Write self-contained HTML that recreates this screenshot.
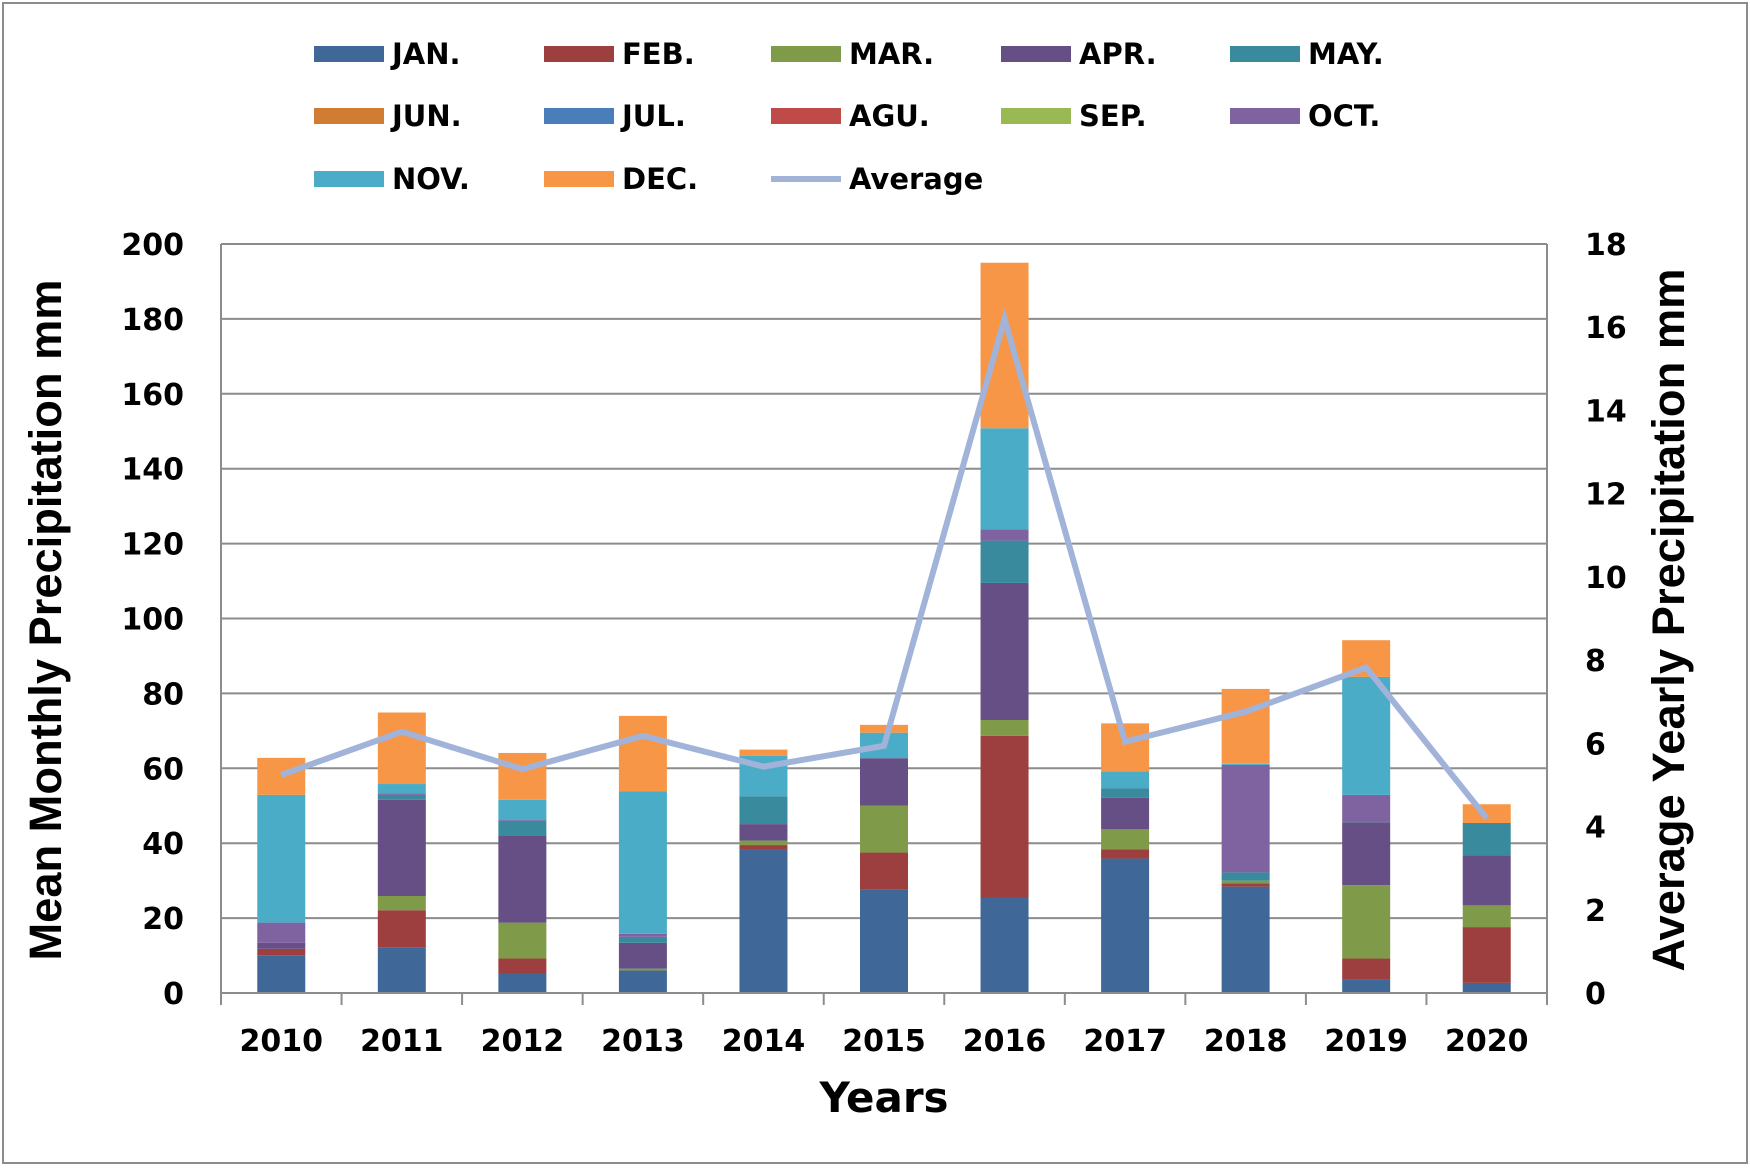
<!DOCTYPE html>
<html><head><meta charset="utf-8"><style>
html,body{margin:0;padding:0;background:#fff;}
svg{display:block;font-family:"DejaVu Sans",Verdana,sans-serif;font-weight:bold;}
</style></head><body>
<svg id="chart" width="1750" height="1168" viewBox="0 0 1750 1168">
<rect x="3" y="3" width="1744" height="1160" fill="#fff" stroke="#8c8c8c" stroke-width="2"/>
<g id="grid"></g><g id="bars"></g><g id="line"></g><g id="axes"></g><g id="legend"></g>
<text x="61" y="620" font-size="45" text-anchor="middle" textLength="681" lengthAdjust="spacingAndGlyphs" style="font-family:'Liberation Sans',Arial,sans-serif" transform="rotate(-90 61 620)">Mean Monthly Precipitation mm</text>
<text x="1684" y="620" font-size="45" text-anchor="middle" textLength="703" lengthAdjust="spacingAndGlyphs" style="font-family:'Liberation Sans',Arial,sans-serif" transform="rotate(-90 1684 620)">Average Yearly Precipitation mm</text>
<text x="884" y="1112" font-size="42" text-anchor="middle">Years</text>
</svg>
<script>
const years = ["2010","2011","2012","2013","2014","2015","2016","2017","2018","2019","2020"];
const months = ["JAN.","FEB.","MAR.","APR.","MAY.","JUN.","JUL.","AGU.","SEP.","OCT.","NOV.","DEC."];
const colors = ["#3f6899","#9c3f3e","#7f9a48","#664f85","#3a8a9e","#d07d33","#4a7ebb","#be4b48","#98b954","#7f62a0","#4aacc6","#f79646"];
// monthly values per year (mm)
const JAN = [10.1,12.2,5.2,6.0,38.3,27.6,25.5,35.9,28.4,3.5,2.7];
const FEB = [1.7,9.9,4.0,0,1.2,9.9,43.2,2.5,0.9,5.7,14.9];
const MAR = [0,3.8,9.6,0.5,1.2,12.5,4.2,5.3,0.7,19.6,5.8];
const APR = [1.6,25.7,23.3,6.9,4.4,12.7,36.6,8.4,0,16.8,13.3];
const MAY = [0,1.3,3.9,1.6,7.4,0,11.3,2.6,2.2,0.2,8.7];
const JUN = [0,0,0,0,0,0,0,0,0,0,0];
const JUL = [0,0,0,0,0,0,0,0,0,0,0];
const AGU = [0,0,0,0,0,0,0,0,0,0,0];
const SEP = [0,0,0,0,0,0,0,0,0,0,0];
const OCT = [5.4,0.4,0.3,0.8,0,0,3.0,0,28.7,7.1,0];
const NOV = [34.1,2.5,5.3,38.0,10.8,6.8,27.0,4.5,0.3,31.5,0];
const DEC = [9.9,19.1,12.5,20.2,1.7,2.1,44.2,12.8,20.0,9.8,5.0];
const average = [5.24,6.28,5.38,6.18,5.44,5.94,16.2,6.04,6.76,7.82,4.2];
const leftTicks = [0,20,40,60,80,100,120,140,160,180,200];
const rightTicks = [0,2,4,6,8,10,12,14,16,18];
const series = [JAN,FEB,MAR,APR,MAY,JUN,JUL,AGU,SEP,OCT,NOV,DEC];

const NS="http://www.w3.org/2000/svg";
const X0=221,X1=1547,Y0=993,YT=244;
const bw=(X1-X0)/years.length;
function y(v){return Y0-(v/200)*(Y0-YT);}
function y2(v){return Y0-(v/18)*(Y0-YT);}
function xc(i){return X0+bw*(i+0.5);}
function mk(tag,attrs,parent){const e=document.createElementNS(NS,tag);for(const k in attrs)e.setAttribute(k,attrs[k]);parent.appendChild(e);return e;}
const G=id=>document.getElementById(id);

leftTicks.forEach(t=>{
  if(t>0){const l=mk('line',{x1:X0,x2:X1,y1:y(t),y2:y(t),stroke:'#8c8c8c','stroke-width':2},G('grid'));
  
  }
  const tx=mk('text',{x:184,y:y(t)+11,'font-size':30,'text-anchor':'end'},G('axes'));
  tx.textContent=t;
  
  
});
rightTicks.forEach(t=>{
  const tx=mk('text',{x:1585,y:y2(t)+11,'font-size':30},G('axes'));
  tx.textContent=t;
  
  
});
years.forEach((yr,i)=>{
  let base=0;
  series.forEach((s,k)=>{
    const v=s[i]; if(v<=0)return;
    const r=mk('rect',{x:xc(i)-24,width:48,y:y(base+v),height:y(base)-y(base+v),fill:colors[k]},G('bars'));
    
    
    base+=v;
  });
  const tx=mk('text',{x:xc(i),y:1051,'font-size':30,'text-anchor':'middle'},G('axes'));
  tx.textContent=yr;
  
  
});
for(let i=0;i<=years.length;i++){
  const l=mk('line',{x1:X0+bw*i,x2:X0+bw*i,y1:Y0,y2:Y0+12,stroke:'#8c8c8c','stroke-width':2},G('axes'));
  
  
}
const ax=mk('path',{d:`M${X0},${YT} V${Y0} H${X1} V${YT}`,fill:'none',stroke:'#8c8c8c','stroke-width':2},G('axes'));


const pl=mk('polyline',{points:average.map((v,i)=>xc(i)+','+y2(v)).join(' '),fill:'none',stroke:'#a1b3d8','stroke-width':6,'stroke-linejoin':'miter'},G('line'));



const legNames=months.concat(["Average"]);
const legCols=[314,544,771,1001,1230], legRows=[54,116,179];
legNames.forEach((n,i)=>{
  const c=i%5,r=Math.floor(i/5);
  const g=mk('g',{},G('legend'));
  
  
  if(i<12) mk('rect',{x:legCols[c],y:legRows[r]-8,width:70,height:16,fill:colors[i]},g);
  else mk('line',{x1:legCols[c],x2:legCols[c]+70,y1:legRows[r],y2:legRows[r],stroke:'#a1b3d8','stroke-width':6},g);
  const t=mk('text',{x:legCols[c]+78,y:legRows[r]+10,'font-size':29},g);
  t.textContent=n;
});
</script>
</body></html>
